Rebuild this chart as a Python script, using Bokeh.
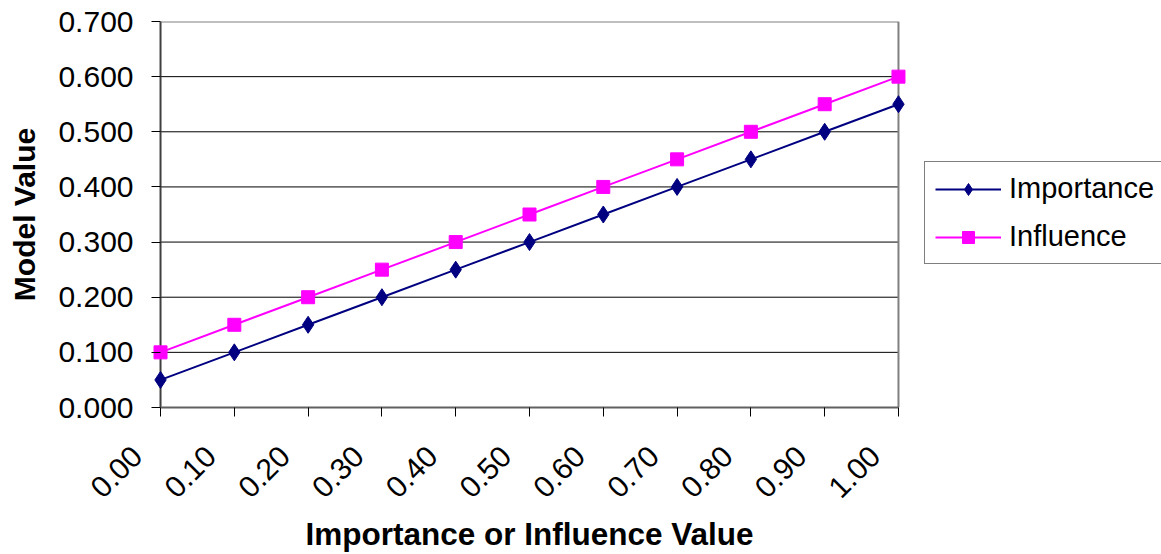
import math
from bokeh.plotting import figure
from bokeh.layouts import row
from bokeh.models import (ColumnDataSource, Range1d, FixedTicker, NumeralTickFormatter,
                          Legend, LegendItem)
from bokeh.embed import file_html
from bokeh.resources import INLINE

# Model value as a function of importance / influence
levels = [0.00, 0.10, 0.20, 0.30, 0.40, 0.50, 0.60, 0.70, 0.80, 0.90, 1.00]
importance = [0.050, 0.100, 0.150, 0.200, 0.250, 0.300, 0.350, 0.400, 0.450, 0.500, 0.550]
influence = [0.100, 0.150, 0.200, 0.250, 0.300, 0.350, 0.400, 0.450, 0.500, 0.550, 0.600]
y_ticks = [0.0, 0.1, 0.2, 0.3, 0.4, 0.5, 0.6, 0.7]

FONT = "Liberation Sans"
NAVY = "#000080"
MAGENTA = "#FF00FF"
BORDER = "#808080"

x_lo, x_hi = levels[0], levels[-1]
y_lo, y_hi = y_ticks[0], y_ticks[-1]
# a little room either side of the x range so the end markers are drawn whole
pad = 0.0163

src = ColumnDataSource(dict(x=levels, imp=importance, inf=influence))

p = figure(width=915, height=554, output_backend="svg", toolbar_location=None,
           x_range=Range1d(x_lo - pad, x_hi + pad), y_range=Range1d(y_lo, y_hi),
           min_border_left=148, min_border_right=5,
           min_border_top=21, min_border_bottom=146,
           background_fill_color="white", border_fill_color="white")

p.outline_line_color = None
p.xgrid.grid_line_color = None
p.ygrid.grid_line_color = None

# horizontal gridlines and the top border of the plotting area
n_inner = len(y_ticks) - 2
p.segment(x0=[x_lo] * (n_inner + 1), x1=[x_hi] * (n_inner + 1),
          y0=y_ticks[1:], y1=y_ticks[1:],
          line_color=["black"] * n_inner + [BORDER],
          line_width=[1] * n_inner + [2], level="underlay")
# right-hand border and the value axis line at x = 0
p.segment(x0=[x_hi, x_lo], x1=[x_hi, x_lo], y0=[y_lo, y_lo], y1=[y_hi, y_hi],
          line_color=[BORDER, "#404040"], line_width=2, level="underlay")

# y axis: ticks run from just left of the axis line up to it
p.yaxis.ticker = FixedTicker(ticks=y_ticks)
p.yaxis.formatter = NumeralTickFormatter(format="0.000")
p.yaxis.axis_label = "Model Value"
p.yaxis.axis_line_color = None
p.yaxis.major_tick_out = -3
p.yaxis.major_tick_in = 12
p.yaxis.major_label_standoff = 15
p.yaxis.axis_label_standoff = 14
p.yaxis.axis_label_text_font_size = "30px"

# x axis
nb = "\u00a0" * 4
p.xaxis.bounds = (x_lo, x_hi)
p.xaxis.ticker = FixedTicker(ticks=levels)
p.xaxis.major_label_overrides = {v: f"{v:.2f}{nb}" for v in levels}
p.xaxis.axis_label = "Importance or Influence Value"
p.xaxis.axis_line_color = "#606060"
p.xaxis.axis_line_width = 2
p.xaxis.major_tick_out = 9
p.xaxis.major_tick_in = 0
p.xaxis.major_label_orientation = math.pi / 4
p.xaxis.major_label_standoff = 11
p.xaxis.axis_label_standoff = -3
p.xaxis.axis_label_text_font_size = "31.5px"

for ax in (p.xaxis, p.yaxis):
    ax.minor_tick_out = 0
    ax.minor_tick_in = 0
    ax.major_tick_line_color = "black"
    ax.major_label_text_font = FONT
    ax.major_label_text_font_size = "30px"
    ax.major_label_text_color = "black"
    ax.axis_label_text_font = FONT
    ax.axis_label_text_font_style = "bold"
    ax.axis_label_text_color = "black"

p.line("x", "imp", source=src, line_color=NAVY, line_width=2)
p.scatter("x", "imp", source=src, marker="diamond", size=17,
          fill_color=NAVY, line_color=NAVY)
p.line("x", "inf", source=src, line_color=MAGENTA, line_width=2)
p.scatter("x", "inf", source=src, marker="square", size=13,
          fill_color=MAGENTA, line_color=MAGENTA)

# legend panel to the right of the chart; its ranges keep the series out of view
lg = figure(width=246, height=554, output_backend="svg", toolbar_location=None,
            x_range=Range1d(10, 11), y_range=Range1d(10, 11),
            x_axis_location=None, y_axis_location=None,
            min_border=0, outline_line_color=None,
            background_fill_color="white", border_fill_color="white")
lg.xgrid.grid_line_color = None
lg.ygrid.grid_line_color = None
k_imp = [lg.line("x", "imp", source=src, line_color=NAVY, line_width=2),
         lg.scatter("x", "imp", source=src, marker="diamond", size=18,
                    fill_color=NAVY, line_color=NAVY)]
k_inf = [lg.line("x", "inf", source=src, line_color=MAGENTA, line_width=2),
         lg.scatter("x", "inf", source=src, marker="square", size=13,
                    fill_color=MAGENTA, line_color=MAGENTA)]

legend = Legend(items=[
    LegendItem(label="Importance", renderers=k_imp),
    LegendItem(label="Influence", renderers=k_inf),
], location=(9, 143))
legend.label_text_font = FONT
legend.label_text_font_size = "29px"
legend.label_text_color = "black"
legend.label_standoff = 8
legend.glyph_width = 66
legend.glyph_height = 30
legend.spacing = 15
legend.padding = 10
legend.margin = 0
legend.border_line_color = "black"
legend.border_line_width = 1
legend.background_fill_color = "white"
legend.background_fill_alpha = 1
lg.add_layout(legend, "center")

open("out.html", "w").write(file_html(row(p, lg, spacing=0), INLINE))
